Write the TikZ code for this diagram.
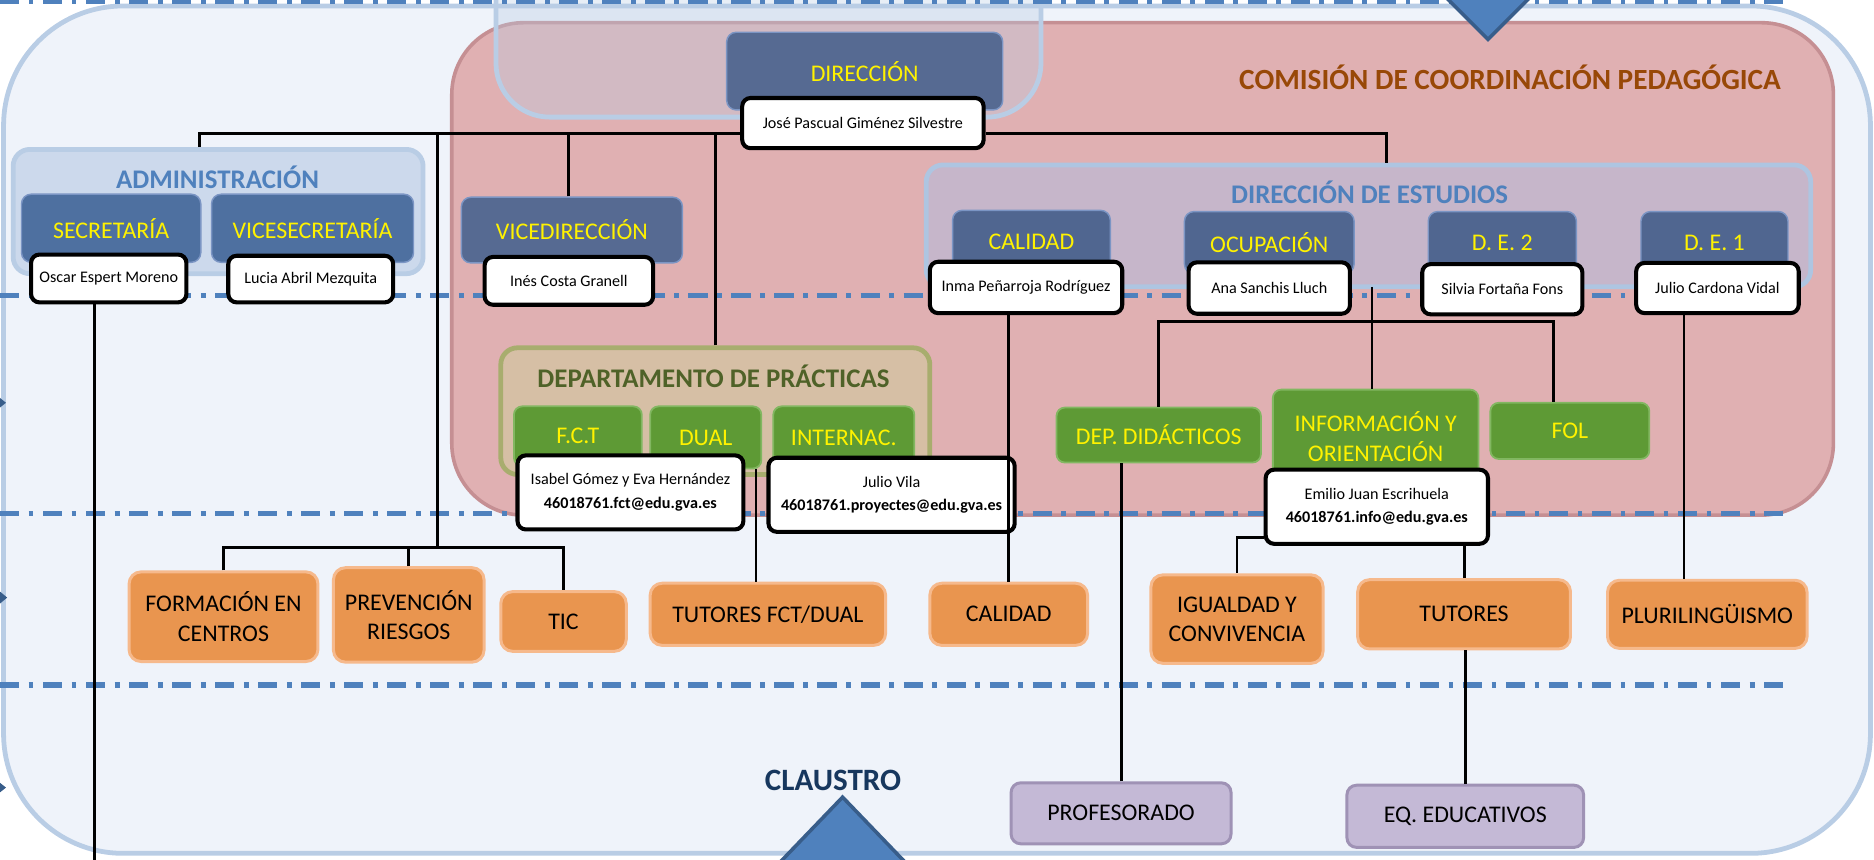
\documentclass[tikz,border=0pt]{standalone}
\usepackage{fontspec}
\setmainfont{Carlito}
\definecolor{bgfill}{HTML}{EFF3FA}
\definecolor{bgline}{HTML}{B9CDE5}
\definecolor{ccpfill}{HTML}{E0B0B2}
\definecolor{ccpline}{HTML}{C58F93}
\definecolor{sepblue}{HTML}{4F81BD}
\definecolor{arrowline}{HTML}{385D8A}
\definecolor{dirblue}{HTML}{566A92}
\definecolor{secblue}{HTML}{4E70A0}
\definecolor{deblue}{HTML}{506690}
\definecolor{boxline}{HTML}{7B95C4}
\definecolor{admfill}{HTML}{CCD9EC}
\definecolor{defill}{HTML}{C6B6CA}
\definecolor{deptfill}{HTML}{D6BFA5}
\definecolor{deptline}{HTML}{A8AD6E}
\definecolor{depttext}{HTML}{4F6228}
\definecolor{ccptext}{HTML}{984807}
\definecolor{claustrotext}{HTML}{17375E}
\definecolor{fgreen}{HTML}{5E9A35}
\definecolor{fgreenl}{HTML}{82B761}
\definecolor{forange}{HTML}{E9954F}
\definecolor{forangel}{HTML}{F6B98C}
\definecolor{fpurple}{HTML}{C4B9D6}
\definecolor{fpurplel}{HTML}{9F92B5}
\begin{document}
\begin{tikzpicture}[x=1pt,y=-1pt,
  sepline/.style={sepblue, line width=4.5pt, dash pattern=on 16pt off 8pt on 4pt off 8pt},
  link/.style={line width=2.4pt},
  grp/.style={rounded corners=14pt, line width=4pt, inner sep=0pt},
  grptitle/.style={font=\fontsize{22.5}{26}\selectfont\bfseries},
  head/.style={draw=boxline, line width=1.2pt, rounded corners=8pt, inner sep=0pt, text=yellow, font=\fontsize{20}{22}\selectfont},
  namebox/.style={draw, fill=white, line width=3.4pt, rounded corners=7pt, inner sep=0pt, align=center, font=\fontsize{13.5}{19.5}\selectfont},
  greenbox/.style={draw=fgreenl, fill=fgreen, line width=1.5pt, rounded corners=7pt, inner sep=0pt, align=center, text=yellow, font=\fontsize{20}{25}\selectfont},
  orangebox/.style={draw=forangel, fill=forange, line width=2.5pt, rounded corners=10pt, inner sep=0pt, align=center, font=\fontsize{20}{24.5}\selectfont},
  purplebox/.style={draw=fpurplel, fill=fpurple, line width=2.5pt, rounded corners=8pt, inner sep=0pt, font=\fontsize{20}{24}\selectfont}]
\useasboundingbox (0,0) rectangle (1568,719);
\clip (0,0) rectangle (1568,719);
% claustro, ccp and direccion areas
\draw[fill=bgfill, draw=bgline, line width=4pt, rounded corners=100pt] (3,5) rectangle (1565,714);
\draw[fill=ccpfill, draw=ccpline, line width=3pt, rounded corners=60pt] (378,19) rectangle (1534,431);
\draw[fill=bgline, fill opacity=0.35, draw=bgline, line width=4pt, rounded corners=45pt] (415,-60) rectangle (871,98);
% separators
\draw[sepline] (0,1.5) -- (1497,1.5);
\draw[sepline] (0,247) -- (1497,247);
\draw[sepline] (0,429.5) -- (1497,429.5);
\draw[sepline] (0,573) -- (1497,573);
\fill[arrowline] (0,333) -- (5,337) -- (0,341) -- cycle;
\fill[arrowline] (0,495) -- (6,500) -- (0,505) -- cycle;
\fill[arrowline] (0,655) -- (5,659) -- (0,663) -- cycle;
\draw[fill=sepblue, draw=arrowline, line width=3pt] (1192,-20) -- (1298,-20) -- (1245,33) -- cycle;
\draw[fill=sepblue, draw=arrowline, line width=3pt] (630,745) -- (705,667) -- (780,745) -- cycle;
\node[text=ccptext, font=\fontsize{24.5}{28}\selectfont\bfseries] (ccp) at (1263.5,65) {COMISIÓN DE COORDINACIÓN PEDAGÓGICA};
\node[text=claustrotext, font=\fontsize{26}{30}\selectfont\bfseries] (claustro) at (697,653) {CLAUSTRO};
% groups
\node[grp, fill=admfill, draw=bgline, minimum width=343pt, minimum height=104pt] (adm) at (182.5,177) {};
\node[grptitle, text=sepblue] (admt) at (182,148) {ADMINISTRACIÓN};
\node[grp, fill=defill, draw=bgline!90!sepblue, minimum width=740pt, minimum height=102pt] (destud) at (1145,189) {};
\node[grptitle, text=sepblue] (destudt) at (1146,161) {DIRECCIÓN DE ESTUDIOS};
\node[grp, fill=deptfill, draw=deptline, minimum width=359pt, minimum height=106pt] (dept) at (598.5,344) {};
\node[grptitle, text=depttext] (deptt) at (597,314.5) {DEPARTAMENTO DE PRÁCTICAS};
% direccion
\node[head, fill=dirblue, minimum width=231pt, minimum height=65pt] (dir) at (723.5,59.5) {DIRECCIÓN};
\node[namebox, minimum width=202pt, minimum height=42pt] (jose) at (722,103) {José Pascual Giménez Silvestre};
\node[head, fill=secblue, minimum width=150pt, minimum height=57pt] (sec) at (93,191) {SECRETARÍA};
\node[head, fill=secblue, minimum width=169pt, minimum height=57pt] (vsec) at (261.5,191) {VICESECRETARÍA};
\node[namebox, minimum width=130pt, minimum height=40pt] (oscar) at (91,233) {Oscar Espert Moreno};
\node[namebox, minimum width=138pt, minimum height=39pt] (lucia) at (260,233.5) {Lucia Abril Mezquita};
\node[head, fill=dirblue, minimum width=185pt, minimum height=55pt] (vice) at (478.5,192.5) {VICEDIRECCIÓN};
\node[namebox, minimum width=141pt, minimum height=40pt] (ines) at (476,235) {Inés Costa Granell};
% direccion de estudios
\node[head, fill=deblue, minimum width=132pt, minimum height=52pt] (cal) at (863,202) {CALIDAD};
\node[head, fill=deblue, minimum width=142pt, minimum height=52pt] (ocup) at (1062,203) {OCUPACIÓN};
\node[head, fill=deblue, minimum width=124pt, minimum height=52pt] (de2) at (1257,203) {D. E. 2};
\node[head, fill=deblue, minimum width=123pt, minimum height=52pt] (de1) at (1434.5,203) {D. E. 1};
\node[namebox, minimum width=161pt, minimum height=43pt] (inma) at (858.5,240.5) {Inma Peñarroja Rodríguez};
\node[namebox, minimum width=135pt, minimum height=43pt] (ana) at (1062,241) {Ana Sanchis Lluch};
\node[namebox, minimum width=134pt, minimum height=42pt] (silvia) at (1257,242) {Silvia Fortaña Fons};
\node[namebox, minimum width=136pt, minimum height=42pt] (julioc) at (1437,241) {Julio Cardona Vidal};
% practicas
\node[greenbox, minimum width=107pt, minimum height=50pt] (fct) at (483.5,365) {F.C.T};
\node[greenbox, minimum width=93pt, minimum height=52pt] (dual) at (590.5,366) {DUAL};
\node[greenbox, minimum width=118pt, minimum height=52pt] (intl) at (706,366) {INTERNAC.};
\node[namebox, minimum width=189pt, minimum height=62pt] (isabel) at (527.5,412) {Isabel Gómez y Eva Hernández\\\textbf{46018761.fct@edu.gva.es}};
\node[namebox, minimum width=206pt, minimum height=62pt] (juliov) at (746,414) {Julio Vila\\\textbf{46018761.proyectes@edu.gva.es}};
% departamentos
\node[greenbox, minimum width=171pt, minimum height=46pt] (didac) at (969.5,364) {DEP. DIDÁCTICOS};
\node[greenbox, minimum width=172pt, minimum height=79pt] (info) at (1151,365.5) {INFORMACIÓN Y\\ORIENTACIÓN};
\node[greenbox, minimum width=133pt, minimum height=47pt] (fol) at (1313.5,360.5) {FOL};
\node[namebox, minimum width=186pt, minimum height=62pt] (emilio) at (1152,424) {Emilio Juan Escrihuela\\\textbf{46018761.info@edu.gva.es}};
% coordinaciones
\node[orangebox, minimum width=158pt, minimum height=75pt] (forma) at (187,516) {FORMACIÓN EN\\CENTROS};
\node[orangebox, minimum width=126pt, minimum height=79pt] (prev) at (342,514.5) {PREVENCIÓN\\RIESGOS};
\node[orangebox, minimum width=105pt, minimum height=50pt] (tic) at (471.5,520) {TIC};
\node[orangebox, minimum width=197pt, minimum height=52pt] (tfct) at (642.5,514) {TUTORES FCT/DUAL};
\node[orangebox, minimum width=132pt, minimum height=52pt] (cal2) at (844,514) {CALIDAD};
\node[orangebox, minimum width=144pt, minimum height=74pt] (igual) at (1035,518) {IGUALDAD Y\\CONVIVENCIA};
\node[orangebox, minimum width=178pt, minimum height=58pt] (tutores) at (1225,514) {TUTORES};
\node[orangebox, minimum width=167pt, minimum height=57pt] (pluri) at (1428.5,514) {PLURILINGÜISMO};
\node[purplebox, minimum width=184pt, minimum height=51pt] (profe) at (938,680.5) {PROFESORADO};
\node[purplebox, minimum width=198pt, minimum height=52pt] (eqed) at (1226,683) {EQ. EDUCATIVOS};
% connectors
\coordinate (hy) at (0,111.5);
\coordinate (jf) at (366,458);
\coordinate (ocj) at (1148,240);
\coordinate (jo) at (1148,269);
\coordinate (obot) at (79,725);
\draw[link] ([xshift=-15.5pt]adm.north) |- ([yshift=-8.5pt]jose.west);
\draw[link] ([yshift=-8.5pt]jose.east) -| ([xshift=15pt]destud.north);
\draw[link] (jf) -- (jf |- hy);
\draw[link] ([xshift=-3pt]vice.north) -- ([xshift=-3pt]vice.north |- hy);
\draw[link] (dept.north) -- (dept.north |- hy);
\draw[link] (forma.north) |- (jf) -| (tic.north);
\draw[link] (prev.north) -- (prev.north |- jf);
\draw[link] ([xshift=-12pt]oscar.south) -- (obot);
\draw[link] ([xshift=42pt]dual.south) -- ([xshift=42pt]dual.south |- tfct.north);
\draw[link] (cal2.north) -- (cal2.north |- inma.south);
\draw[link] (ocj) -- (ocj |- info.north);
\draw[link] (didac.north) |- (jo) -| ([xshift=-13.5pt]fol.north);
\draw[link] (profe.north) -- (profe.north |- didac.south);
\draw[link] ([yshift=-26pt]emilio.west) -| (igual.north);
\draw[link] (tutores.north) -- (tutores.north |- emilio.south);
\draw[link] (eqed.north) -- (eqed.north |- tutores.south);
\draw[link] ([xshift=-28pt]julioc.south) -- ([xshift=-28pt]julioc.south |- pluri.north);
\end{tikzpicture}
\end{document}
